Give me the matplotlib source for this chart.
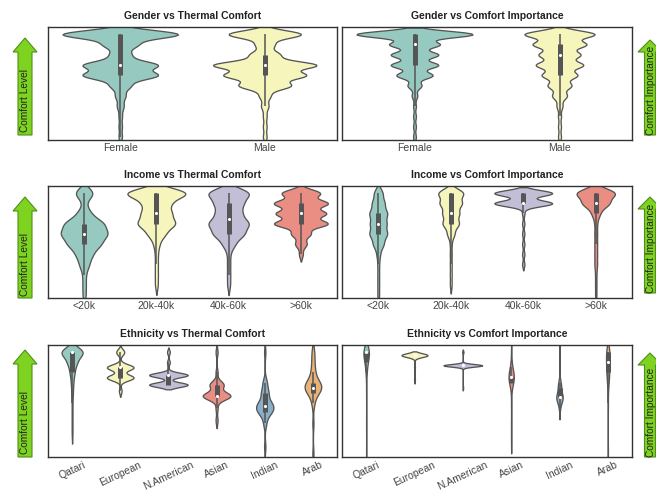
import numpy as np
import pandas as pd
import matplotlib
matplotlib.use('Agg')
import matplotlib.pyplot as plt
from matplotlib.patches import FancyArrow
import seaborn as sns

plt.rcParams['font.family'] = ['Liberation Sans', 'DejaVu Sans']

EDGE = '#555555'

genders = ['Female', 'Male']
incomes = ['<20k', '20k-40k', '40k-60k', '>60k']
ethnicities = ['Qatari', 'European', 'N.American', 'Asian', 'Indian', 'Arab']

# scores on the 0-10 scale, with the number of respondents giving each score
scale = [10, 9, 8, 7, 6, 5, 4, 3, 2, 1, 0]

gender_comfort = {
    'Female': (scale, [35, 10, 6, 22, 22, 6, 3, 2, 1, 1, 1]),
    'Male':   (scale, [20, 5, 8, 28, 22, 14, 3, 2, 1, 1, 1]),
}
gender_importance = {
    'Female': (scale, [42, 18, 17, 17, 13, 5, 2, 1, 1, 1, 1]),
    'Male':   (scale, [24, 18, 14, 16, 12, 8, 5, 2, 1, 1, 1]),
}

income_comfort = {
    '<20k':    (scale, [6, 1, 4, 12, 14, 10, 5, 3, 1, 1, 1]),
    '20k-40k': (scale, [22, 9, 10, 13, 6, 2, 1, 1, 1, 1, 0]),
    '40k-60k': (scale, [14, 9, 8, 13, 10, 4, 1, 1, 1, 1, 0]),
    '>60k':    (scale, [10, 14, 13, 14, 5, 3, 1, 0, 0, 0, 0]),
}
income_importance = {
    '<20k':    (scale, [5, 7, 10, 9, 10, 6, 2, 1, 1, 1, 1]),
    '20k-40k': (scale, [14, 12, 9, 9, 4, 1, 1, 1, 1, 1, 0]),
    '40k-60k': (scale, [25, 25, 1, 1, 1, 1, 1, 1, 0, 0, 0]),
    '>60k':    (scale, [30, 20, 6, 2, 2, 2, 2, 2, 1, 1, 1]),
}

ethnicity_comfort = {
    'Qatari':     ([10, 9, 8, 7, 6, 5, 4, 3, 2], [30, 12, 6, 3, 2, 1, 1, 1, 1]),
    'European':   ([10, 8.5, 7.5, 6.2], [3, 10, 10, 1]),
    'N.American': ([10, 9, 7.75, 6.8], [1, 1, 14, 14]),
    'Asian':      ([10, 8, 6.8, 5.7, 4.5, 3.3], [1, 1, 7, 14, 1, 1]),
    'Indian':     ([10, 7, 6, 5, 4.5, 4, 3, 0.7], [1, 3, 5, 6, 7, 5, 2, 1]),
    'Arab':       ([10, 9, 8, 7, 6.5, 6, 5, 3, 0], [2, 2, 3, 6, 8, 4, 2, 1, 1]),
}
ethnicity_importance = {
    'Qatari':     ([10, 9, 8, 6, 3, 0], [30, 10, 4, 1, 1, 1]),
    'European':   ([9.7, 8.5, 7.3], [30, 1, 1]),
    'N.American': ([10, 8.7, 6.5], [2, 60, 1]),
    'Asian':      ([10, 8.5, 7.6, 7, 5, 3, 1.5], [1, 3, 14, 4, 1, 1, 1]),
    'Indian':     ([10, 7, 6.5, 5.6, 5, 4.3], [1, 3, 5, 12, 4, 1]),
    'Arab':       ([10, 9, 8, 7, 5, 0], [14, 12, 10, 6, 1, 1]),
}


def expand(values, counts):
    return np.repeat(np.asarray(values, dtype=float), counts)


def violins(ax, groups, order, title, bw, rotate=False):
    frame = pd.DataFrame(
        [(name, v) for name in order for v in expand(*groups[name])],
        columns=['group', 'score'],
    )
    sns.violinplot(
        data=frame, x='group', y='score', hue='group',
        order=order, hue_order=order, palette='Set3',
        density_norm='area', common_norm=True, bw_adjust=bw, cut=2, inner=None,
        linewidth=0.95, linecolor=EDGE, legend=False, ax=ax,
    )

    # inner box: whiskers, quartile bar and median dot
    for i, name in enumerate(order):
        data = expand(*groups[name])
        q1, med, q3 = np.percentile(data, [25, 50, 75])
        reach = 1.5 * (q3 - q1)
        lo = data[data >= q1 - reach].min()
        hi = data[data <= q3 + reach].max()
        ax.vlines(i, lo, hi, color=EDGE, lw=1.1, zorder=3)
        ax.vlines(i, q1, q3, color=EDGE, lw=3.6, zorder=3)
        ax.scatter(i, med, s=5, color='white', linewidths=0, zorder=4)

    ax.set_ylim(-0.3, 10.7)
    ax.set_xlim(-0.5, len(order) - 0.5)
    ax.set_yticks([])
    ax.set_xlabel('')
    ax.set_ylabel('')
    ax.set_title(title, fontsize=7.5, fontweight='bold', color='#222222', pad=6)
    ax.tick_params(axis='x', length=0, pad=2, labelsize=7.5, labelcolor='#444444')
    if rotate:
        for lab in ax.get_xticklabels():
            lab.set_rotation(25)
            lab.set_ha('center')
    for spine in ax.spines.values():
        spine.set_color('#333333')
        spine.set_linewidth(1.0)


fig = plt.figure(figsize=(6.56, 4.95), dpi=100)

W, H = 656, 495
rows = [(27, 140), (186, 298), (345, 457)]
cols = [(48, 337), (342, 632)]


def place(row, col):
    top, bottom = rows[row]
    left, right = cols[col]
    return fig.add_axes([left / W, 1 - bottom / H, (right - left) / W, (bottom - top) / H])


violins(place(0, 0), gender_comfort, genders, 'Gender vs Thermal Comfort', 0.45)
violins(place(0, 1), gender_importance, genders, 'Gender vs Comfort Importance', 0.4)
violins(place(1, 0), income_comfort, incomes, 'Income vs Thermal Comfort', 0.55)
violins(place(1, 1), income_importance, incomes, 'Income vs Comfort Importance', 0.45)
violins(place(2, 0), ethnicity_comfort, ethnicities, 'Ethnicity vs Thermal Comfort', 0.6, rotate=True)
violins(place(2, 1), ethnicity_importance, ethnicities, 'Ethnicity vs Comfort Importance', 0.8, rotate=True)

# green arrows naming the value axis, drawn in pixel space
overlay = fig.add_axes([0, 0, 1, 1], zorder=-1)
overlay.set_xlim(0, W)
overlay.set_ylim(H, 0)
overlay.axis('off')

left_arrows = [(135, 38), (298, 197), (457, 350)]
right_arrows = [(135, 40), (293, 197), (457, 353)]

for base, tip in left_arrows:
    overlay.add_patch(FancyArrow(
        25, base, 0, tip - base, width=14, head_width=24, head_length=14,
        length_includes_head=True, facecolor='#7ed321', edgecolor='#4f8f17', lw=0.8,
    ))
    overlay.text(25.5, base - 34, 'Comfort Level', rotation=90, ha='center', va='center',
                 fontsize=7.3, color='#222222')

for base, tip in right_arrows:
    overlay.add_patch(FancyArrow(
        650, base, 0, tip - base, width=11, head_width=24, head_length=12,
        length_includes_head=True, facecolor='#7ed321', edgecolor='#4f8f17', lw=0.8,
    ))
    overlay.text(650.5, base - 45, 'Comfort Importance', rotation=90, ha='center', va='center',
                 fontsize=7.3, color='#222222')

fig.savefig('out.png', dpi=100)
